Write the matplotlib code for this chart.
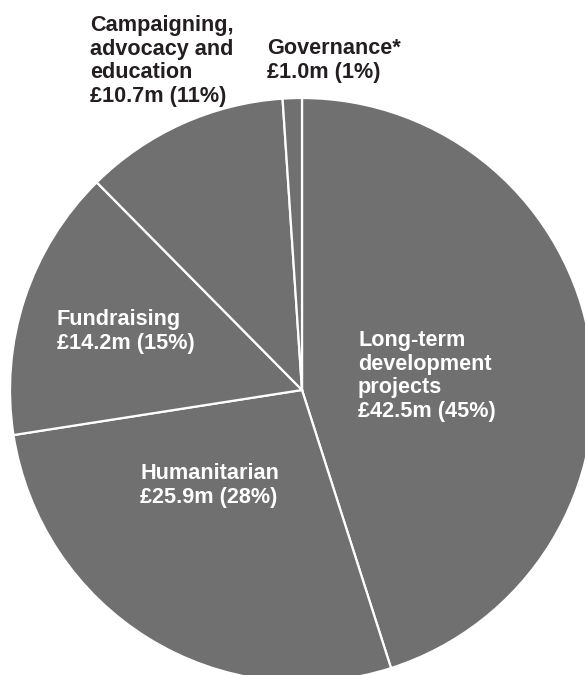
import matplotlib
matplotlib.use("Agg")
import matplotlib.pyplot as plt

# Expenditure breakdown (£ millions), clockwise from 12 o'clock
categories = [
    "Long-term development projects",
    "Humanitarian",
    "Fundraising",
    "Campaigning, advocacy and education",
    "Governance*",
]
values = [42.5, 25.9, 14.2, 10.7, 1.0]
percents = [45, 28, 15, 11, 1]

# Label text split into lines, one entry per category
label_lines = [
    ["Long-term", "development", "projects"],
    ["Humanitarian"],
    ["Fundraising"],
    ["Campaigning,", "advocacy and", "education"],
    ["Governance*"],
]

W, H = 585, 675
fig = plt.figure(figsize=(W / 100, H / 100), dpi=100)
ax = fig.add_axes([0, 0, 1, 1])

SLICE = "#707070"
DARK = "#231f20"
LIGHT = "#ffffff"

cx, cy, r = 302, H - 390, 292
ax.pie(values, startangle=90, counterclock=False, center=(cx, cy), radius=r,
       colors=[SLICE] * len(values),
       wedgeprops=dict(edgecolor="white", linewidth=1.6), frame=True)
ax.set_xlim(0, W)
ax.set_ylim(0, H)
ax.set_aspect("equal")
ax.axis("off")

# label anchor (left x, first baseline from top), text colour
label_style = [
    (358, 346, LIGHT),
    (140, 479, LIGHT),
    (57, 325, LIGHT),
    (90, 31, DARK),
    (267, 54.5, DARK),
]
step = 23.6
font = dict(family=["Liberation Sans", "DejaVu Sans"], fontweight="bold", fontsize=15.6)

for lines, val, pct, (lx, ly, col) in zip(label_lines, values, percents, label_style):
    all_lines = lines + [f"£{val:.1f}m ({pct}%)"]
    for i, line in enumerate(all_lines):
        ax.text(lx, H - (ly + i * step), line, color=col, ha="left", va="baseline", **font)

fig.savefig("out.png", dpi=100)
